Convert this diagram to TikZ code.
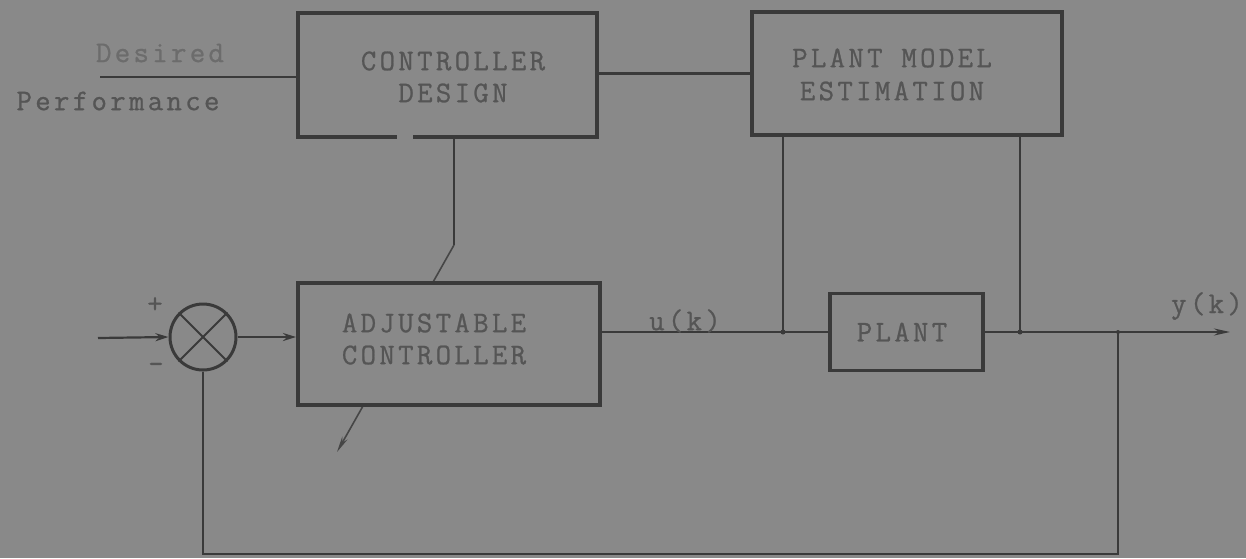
\documentclass[tikz,border=0pt]{standalone}
\usepackage{fontspec}
\usetikzlibrary{arrows.meta,calc}
\definecolor{bg}{HTML}{898989}
\definecolor{ink}{HTML}{3A3A3A}
\definecolor{txt}{HTML}{555555}
\definecolor{faint}{HTML}{6C6C6C}
\newfontfamily\tw[LetterSpace=11,FakeBold=0.8]{Latin Modern Mono}
\begin{document}
\begin{tikzpicture}[x=1pt,y=-1pt,
  boxshape/.style={rectangle, inner sep=0pt},
  boxline/.style={draw=ink, line width=3.6pt, line join=miter},
  conn/.style={draw=ink, line width=2.2pt},
  tip/.style={-{Stealth[length=13pt,width=8pt]}},
  lbl/.style={text=txt, font={\tw\fontsize{30}{32}\selectfont}, align=center, inner sep=0pt},
  sign/.style={text=txt, font={\tw\fontsize{30}{32}\selectfont}, inner sep=0pt},
  dot/.style={fill=ink}]
\fill[bg] (0,0) rectangle (1246,558);
\useasboundingbox (0,0) rectangle (1246,558);

% controller design box (with a gap in its lower edge)
\node[boxshape, minimum width=299pt, minimum height=124pt] (cd) at (447.5,75) {};
\draw[boxline] ($(cd.south west)+(99,0)$) -- (cd.south west) -- (cd.north west)
  -- (cd.north east) -- (cd.south east) -- ($(cd.south west)+(115,0)$);
\node[lbl] (cdtext) at (453,77) {CONTROLLER\\DESIGN};

% plant model estimation
\node[boxshape, boxline, minimum width=310pt, minimum height=123pt] (pm) at (907,73.5) {};
\node[lbl, font={\tw\fontsize{30}{33}\selectfont}] (pmtext) at (892,74.5) {PLANT MODEL\\ESTIMATION};

% desired performance
\coordinate (dp) at (100,77);
\node[lbl, text=faint] (desired) at (160,53) {Desired};
\node[lbl] (perf) at (118,101) {Performance};
\draw[conn] (dp) -- (dp -| cd.west);
\draw[conn] (pm.west -| cd.east) -- (pm.west);

% adjustment link from controller design
\coordinate (bend) at (454,245);
\coordinate (adjtip) at (337,452);
\draw[conn, line width=2pt] (cd.south -| bend) -- (bend);
\draw[draw=ink!85!bg, line width=1.6pt, -{Stealth[length=16pt,width=6pt]}] (bend) -- (adjtip);

% adjustable controller
\node[boxshape, boxline, line width=4pt, fill=bg, minimum width=302pt, minimum height=122pt] (adj) at (449,344) {};
\node[lbl] (adjtext) at (434,339) {ADJUSTABLE\\CONTROLLER};

% summing junction
\node[circle, draw=ink, line width=3pt, minimum size=66pt, inner sep=0pt] (sum) at (203,337) {};
\draw[ink, line width=1.8pt] (sum.north west) -- (sum.south east);
\draw[ink, line width=1.8pt] (sum.north east) -- (sum.south west);
\node[sign] (plus) at (155,305) {+};
\node[sign] (minus) at (156,368) {-};
\coordinate (in) at (98,338);
\draw[conn, tip] (in) -- (sum.west);
\draw[conn, tip] (sum.east) -- (sum.east -| adj.west);

% plant
\node[boxshape, boxline, minimum width=153pt, minimum height=77pt] (plant) at (906.5,332) {};
\node[lbl] (planttext) at (902,332) {PLANT};

\coordinate (j1) at (783,332);
\coordinate (j2) at (1020,332);
\coordinate (fb) at (1118,332);
\coordinate (yout) at (1230,332);
\coordinate (bot) at (0,554);

\draw[conn] (adj.east |- plant.west) -- (plant.west);
\node[lbl] (uk) at (685,321) {u(k)};
\draw[conn, -{Stealth[length=16pt,width=7pt]}] (plant.east) -- (yout);
\node[lbl] (yk) at (1207,306) {y(k)};

\draw[conn] (pm.south -| j1) -- (j1);
\draw[conn] (pm.south -| j2) -- (j2);
\fill[dot] (j1) circle (2.5pt);
\fill[dot] (j2) circle (2.5pt);
\fill[dot] (fb) circle (2pt);

% feedback
\draw[conn, line width=2pt] (sum.south) -- (sum.south |- bot) -- (fb |- bot) -- (fb);
\end{tikzpicture}
\end{document}
